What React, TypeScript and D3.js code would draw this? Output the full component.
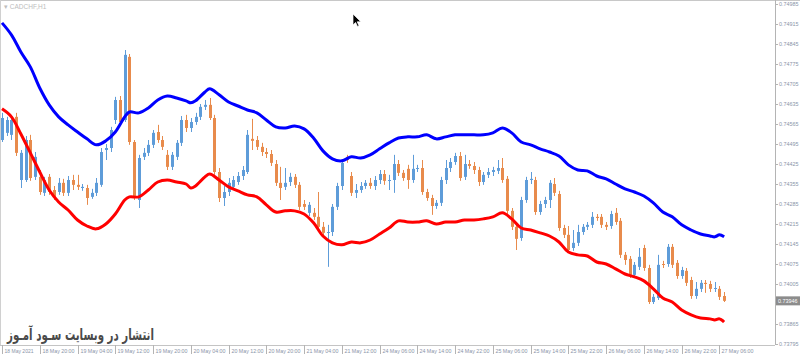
import React from "react";
import * as d3 from "d3";

const opens = [0.74509,0.74534,0.74527,0.74590,0.74369,0.74369,0.74509,0.74380,0.74380,0.74324,0.74380,0.74334,0.74327,0.74359,0.74324,0.74369,0.74352,0.74341,0.74341,0.74310,0.74324,0.74352,0.74474,0.74481,0.74579,0.74649,0.74579,0.74800,0.74502,0.74299,0.74450,0.74464,0.74492,0.74537,0.74509,0.74457,0.74415,0.74450,0.74499,0.74579,0.74551,0.74572,0.74590,0.74625,0.74632,0.74586,0.74397,0.74306,0.74327,0.74345,0.74362,0.74383,0.74397,0.74513,0.74509,0.74485,0.74467,0.74460,0.74425,0.74359,0.74345,0.74362,0.74380,0.74352,0.74285,0.74254,0.74254,0.74240,0.74205,0.74184,0.74187,0.74275,0.74348,0.74450,0.74383,0.74324,0.74334,0.74348,0.74359,0.74348,0.74369,0.74390,0.74366,0.74369,0.74425,0.74394,0.74408,0.74369,0.74408,0.74411,0.74327,0.74306,0.74278,0.74289,0.74369,0.74411,0.74432,0.74453,0.74380,0.74425,0.74418,0.74404,0.74362,0.74387,0.74397,0.74401,0.74411,0.74373,0.74261,0.74205,0.74166,0.74299,0.74369,0.74369,0.74257,0.74285,0.74299,0.74355,0.74320,0.74201,0.74177,0.74131,0.74149,0.74187,0.74205,0.74212,0.74240,0.74240,0.74212,0.74208,0.74254,0.74226,0.74107,0.74093,0.74037,0.74065,0.74131,0.74061,0.73942,0.73956,0.74075,0.74075,0.74135,0.74079,0.74033,0.74051,0.74019,0.73963,0.73988,0.74009,0.74005,0.73988,0.73988,0.73963];
const highs = [0.74604,0.74590,0.74586,0.74604,0.74474,0.74523,0.74527,0.74467,0.74404,0.74380,0.74390,0.74348,0.74376,0.74373,0.74383,0.74387,0.74387,0.74355,0.74352,0.74338,0.74376,0.74481,0.74495,0.74555,0.74660,0.74663,0.74824,0.74810,0.74509,0.74457,0.74481,0.74509,0.74544,0.74562,0.74523,0.74474,0.74467,0.74509,0.74593,0.74597,0.74586,0.74604,0.74635,0.74649,0.74656,0.74597,0.74411,0.74348,0.74376,0.74383,0.74397,0.74418,0.74544,0.74583,0.74523,0.74499,0.74481,0.74474,0.74439,0.74415,0.74411,0.74394,0.74390,0.74362,0.74299,0.74292,0.74271,0.74327,0.74222,0.74212,0.74285,0.74359,0.74439,0.74457,0.74397,0.74355,0.74362,0.74369,0.74376,0.74383,0.74404,0.74404,0.74387,0.74457,0.74439,0.74404,0.74422,0.74457,0.74422,0.74439,0.74338,0.74317,0.74299,0.74380,0.74439,0.74446,0.74464,0.74467,0.74457,0.74439,0.74432,0.74415,0.74397,0.74411,0.74415,0.74439,0.74446,0.74383,0.74271,0.74215,0.74310,0.74380,0.74397,0.74380,0.74296,0.74310,0.74369,0.74376,0.74331,0.74212,0.74208,0.74194,0.74212,0.74215,0.74222,0.74257,0.74250,0.74250,0.74222,0.74261,0.74271,0.74236,0.74117,0.74103,0.74082,0.74131,0.74142,0.74072,0.73970,0.74107,0.74086,0.74145,0.74145,0.74089,0.74065,0.74061,0.74030,0.74012,0.74019,0.74019,0.74016,0.74012,0.73998,0.73977];
const lows = [0.74502,0.74523,0.74509,0.74453,0.74341,0.74362,0.74366,0.74369,0.74317,0.74313,0.74317,0.74299,0.74317,0.74313,0.74313,0.74334,0.74334,0.74331,0.74282,0.74303,0.74313,0.74345,0.74439,0.74467,0.74565,0.74558,0.74572,0.74492,0.74299,0.74271,0.74439,0.74453,0.74481,0.74499,0.74474,0.74404,0.74404,0.74439,0.74488,0.74537,0.74537,0.74562,0.74579,0.74614,0.74579,0.74387,0.74292,0.74278,0.74313,0.74334,0.74352,0.74369,0.74390,0.74474,0.74474,0.74453,0.74446,0.74418,0.74348,0.74299,0.74334,0.74348,0.74341,0.74264,0.74264,0.74243,0.74229,0.74194,0.74170,0.74065,0.74173,0.74264,0.74334,0.74429,0.74313,0.74306,0.74324,0.74338,0.74338,0.74334,0.74355,0.74352,0.74334,0.74324,0.74383,0.74366,0.74338,0.74359,0.74397,0.74317,0.74296,0.74247,0.74268,0.74278,0.74355,0.74397,0.74422,0.74366,0.74369,0.74408,0.74390,0.74348,0.74352,0.74376,0.74383,0.74390,0.74359,0.74250,0.74194,0.74124,0.74156,0.74289,0.74355,0.74247,0.74247,0.74271,0.74271,0.74313,0.74191,0.74166,0.74114,0.74121,0.74138,0.74177,0.74194,0.74201,0.74226,0.74201,0.74194,0.74198,0.74212,0.74096,0.74072,0.74026,0.74026,0.74054,0.74051,0.73935,0.73935,0.73949,0.74061,0.74065,0.74061,0.74023,0.74023,0.73998,0.73953,0.73953,0.73977,0.73974,0.73977,0.73977,0.73949,0.73942];
const closes = [0.74586,0.74579,0.74579,0.74464,0.74464,0.74509,0.74376,0.74450,0.74327,0.74369,0.74327,0.74310,0.74359,0.74324,0.74369,0.74352,0.74345,0.74345,0.74306,0.74324,0.74359,0.74467,0.74481,0.74544,0.74649,0.74572,0.74807,0.74502,0.74310,0.74446,0.74464,0.74492,0.74534,0.74509,0.74485,0.74415,0.74457,0.74499,0.74579,0.74551,0.74572,0.74590,0.74625,0.74632,0.74586,0.74397,0.74306,0.74327,0.74359,0.74369,0.74383,0.74404,0.74527,0.74506,0.74485,0.74467,0.74460,0.74429,0.74359,0.74341,0.74359,0.74380,0.74352,0.74275,0.74275,0.74282,0.74240,0.74205,0.74184,0.74187,0.74275,0.74348,0.74429,0.74439,0.74324,0.74334,0.74348,0.74359,0.74348,0.74369,0.74390,0.74366,0.74369,0.74425,0.74394,0.74376,0.74369,0.74408,0.74411,0.74327,0.74306,0.74278,0.74289,0.74369,0.74411,0.74432,0.74453,0.74376,0.74425,0.74418,0.74404,0.74362,0.74387,0.74397,0.74404,0.74411,0.74369,0.74261,0.74205,0.74163,0.74299,0.74369,0.74373,0.74257,0.74285,0.74299,0.74359,0.74324,0.74201,0.74177,0.74124,0.74149,0.74187,0.74205,0.74212,0.74240,0.74236,0.74212,0.74205,0.74250,0.74222,0.74107,0.74089,0.74037,0.74072,0.74100,0.74061,0.73942,0.73960,0.74072,0.74072,0.74135,0.74072,0.74033,0.74054,0.74009,0.73963,0.73988,0.74009,0.74005,0.73988,0.73991,0.73960,0.73946];

const bandIdx = [0,2,4,6,8,10,12,14,16,18,20,22,24,26,27,29,31,33,35,37,39,40,41,43,44,46,48,50,52,54,56,58,60,62,64,66,68,70,72,74,76,78,80,82,84,86,88,90,92,94,96,98,100,102,104,106,108,110,112,114,116,118,120,122,124,126,128,130,132,134,136,138,140,142,144,146,148,150,151,152,153];
const upperBand = [0.74919,0.74877,0.74817,0.74765,0.74691,0.74632,0.74590,0.74562,0.74537,0.74513,0.74492,0.74506,0.74537,0.74590,0.74607,0.74604,0.74621,0.74649,0.74663,0.74656,0.74646,0.74639,0.74646,0.74677,0.74688,0.74667,0.74642,0.74628,0.74614,0.74604,0.74579,0.74555,0.74551,0.74558,0.74548,0.74516,0.74471,0.74443,0.74436,0.74450,0.74446,0.74457,0.74478,0.74499,0.74516,0.74520,0.74520,0.74527,0.74513,0.74520,0.74527,0.74527,0.74527,0.74527,0.74534,0.74551,0.74534,0.74502,0.74492,0.74478,0.74467,0.74453,0.74422,0.74404,0.74401,0.74383,0.74373,0.74355,0.74338,0.74327,0.74313,0.74289,0.74257,0.74240,0.74212,0.74194,0.74180,0.74173,0.74170,0.74177,0.74170];
const lowerBand = [0.74618,0.74590,0.74530,0.74464,0.74397,0.74334,0.74292,0.74264,0.74229,0.74208,0.74198,0.74215,0.74250,0.74299,0.74310,0.74310,0.74334,0.74362,0.74369,0.74362,0.74355,0.74341,0.74348,0.74380,0.74390,0.74369,0.74345,0.74331,0.74317,0.74310,0.74282,0.74257,0.74261,0.74261,0.74250,0.74219,0.74173,0.74149,0.74142,0.74152,0.74149,0.74159,0.74180,0.74201,0.74226,0.74222,0.74222,0.74226,0.74215,0.74222,0.74222,0.74229,0.74229,0.74233,0.74240,0.74254,0.74233,0.74201,0.74194,0.74184,0.74173,0.74152,0.74117,0.74107,0.74103,0.74082,0.74075,0.74058,0.74040,0.74030,0.74016,0.73988,0.73956,0.73942,0.73914,0.73897,0.73886,0.73883,0.73879,0.73883,0.73872];

const priceTicks = [0.74985,0.74915,0.74845,0.74775,0.74705,0.74635,0.74565,0.74495,0.74425,0.74355,0.74285,0.74215,0.74145,0.74075,0.74005,0.73935,0.73865,0.73795];
const timeLabels = ["18 May 2021","18 May 20:00","19 May 04:00","19 May 12:00","19 May 20:00","20 May 04:00","20 May 12:00","20 May 20:00","21 May 04:00","21 May 12:00","24 May 06:00","24 May 14:00","24 May 22:00","25 May 06:00","25 May 14:00","25 May 22:00","26 May 06:00","26 May 14:00","26 May 22:00","27 May 06:00"];
const labelEvery = 8;
const lastPrice = 0.73946;
const symbolTitle = "CADCHF,H1";
const watermark = "انتشار در وبسایت سـود آمـوز";

const W = 800, H = 357;
const axisX = 775, axisY = 345;
const BLUE = "#5e9cd9", ORANGE = "#e88b4c";

export default function App() {
  const n = opens.length;
  const x = d3.scaleLinear().domain([0, n - 1]).range([2, 2 + 4.72 * (n - 1)]);
  const y = d3.scaleLinear().domain([0.73795, 0.74985]).range([344, 4]);
  const line = d3.line<number>()
    .x((_, k) => x(bandIdx[k]))
    .y((v) => y(v))
    .curve(d3.curveCatmullRom.alpha(0.5));
  const font = "'Liberation Sans', Arial, sans-serif";
  const labelColor = "#8a94a8";
  const timeIdx = timeLabels.map((_, k) => k * labelEvery);
  const lastY = y(lastPrice);

  return (
    <svg width={W} height={H} style={{ position: "absolute", left: 0, top: 0, background: "#fff" }}>
      <rect x={0} y={0} width={W} height={H} fill="#ffffff" />
      <line x1={0} y1={0.5} x2={W} y2={0.5} stroke="#c8c8c8" />
      <line x1={0.5} y1={0} x2={0.5} y2={axisY} stroke="#d0d0d0" />
      <g>
        {opens.map((o, i) => {
          const c = closes[i];
          const bull = c >= o;
          const col = bull ? BLUE : ORANGE;
          const cx = Math.round(x(i)) + 0.5;
          const top = y(Math.max(o, c));
          const bot = y(Math.min(o, c));
          return (
            <g key={i}>
              <line x1={cx} x2={cx} y1={y(highs[i])} y2={y(lows[i])} stroke={col} strokeWidth={1} />
              <rect x={cx - 1.5} y={top} width={3} height={Math.max(1, bot - top)} fill={col} />
            </g>
          );
        })}
      </g>
      <path d={line(upperBand) || ""} fill="none" stroke="#0000ff" strokeWidth={3} strokeLinejoin="round" />
      <path d={line(lowerBand) || ""} fill="none" stroke="#ff0000" strokeWidth={3} strokeLinejoin="round" />
      <line x1={axisX + 0.5} y1={0} x2={axisX + 0.5} y2={axisY} stroke="#b4b4b4" />
      <line x1={0} y1={axisY + 0.5} x2={axisX} y2={axisY + 0.5} stroke="#c4c4c4" />
      {priceTicks.map((p) => {
        const ty = Math.round(y(p)) + 0.5;
        const hidden = Math.abs(y(p) - lastY) < 6;
        return (
          <g key={p}>
            <line x1={axisX} x2={axisX + 3} y1={ty} y2={ty} stroke="#b4b4b4" />
            {!hidden && (
              <text x={axisX + 4} y={y(p)} dy="0.35em" fontSize={5.4} fontFamily={font} fill={labelColor}>
                {p.toFixed(5)}
              </text>
            )}
          </g>
        );
      })}
      {timeIdx.map((i, k) => {
        const tx = Math.round(x(i)) + 0.5;
        return (
          <g key={k}>
            <line x1={tx} x2={tx} y1={axisY} y2={axisY + 9} stroke="#b4b4b4" />
            <text x={tx + 2} y={axisY + 7.5} fontSize={6.2} fontFamily={font} fill={labelColor}
              textLength={k === 0 ? 29 : 32} lengthAdjust="spacingAndGlyphs">
              {timeLabels[k]}
            </text>
          </g>
        );
      })}
      <rect x={axisX + 1} y={lastY - 4.5} width={W - axisX - 1} height={9} fill="#8c8c8c" />
      <text x={axisX + 3} y={lastY} dy="0.35em" fontSize={5.4} fontFamily={font} fill="#ffffff">
        {lastPrice.toFixed(5)}
      </text>
      <text x={4} y={9} fontSize={6.5} fontFamily={font} fill="#bdbdbd">{"▾ " + symbolTitle}</text>
      <g transform="translate(7,340) scale(0.66,1)">
        <text x={0} y={0} fontSize={15.5} fontWeight="bold" fontFamily="'DejaVu Sans', sans-serif" fill="#4a4a4a"
          direction="rtl" textAnchor="end" style={{ unicodeBidi: "plaintext" } as any}>
          {watermark}
        </text>
      </g>
      <path transform="translate(353,14)" d="M0,0 L0,11 L2.6,8.4 L4.5,12.5 L6,11.8 L4.2,7.8 L7.8,7.8 Z" fill="#000" stroke="#fff" strokeWidth={0.7} />
    </svg>
  );
}
